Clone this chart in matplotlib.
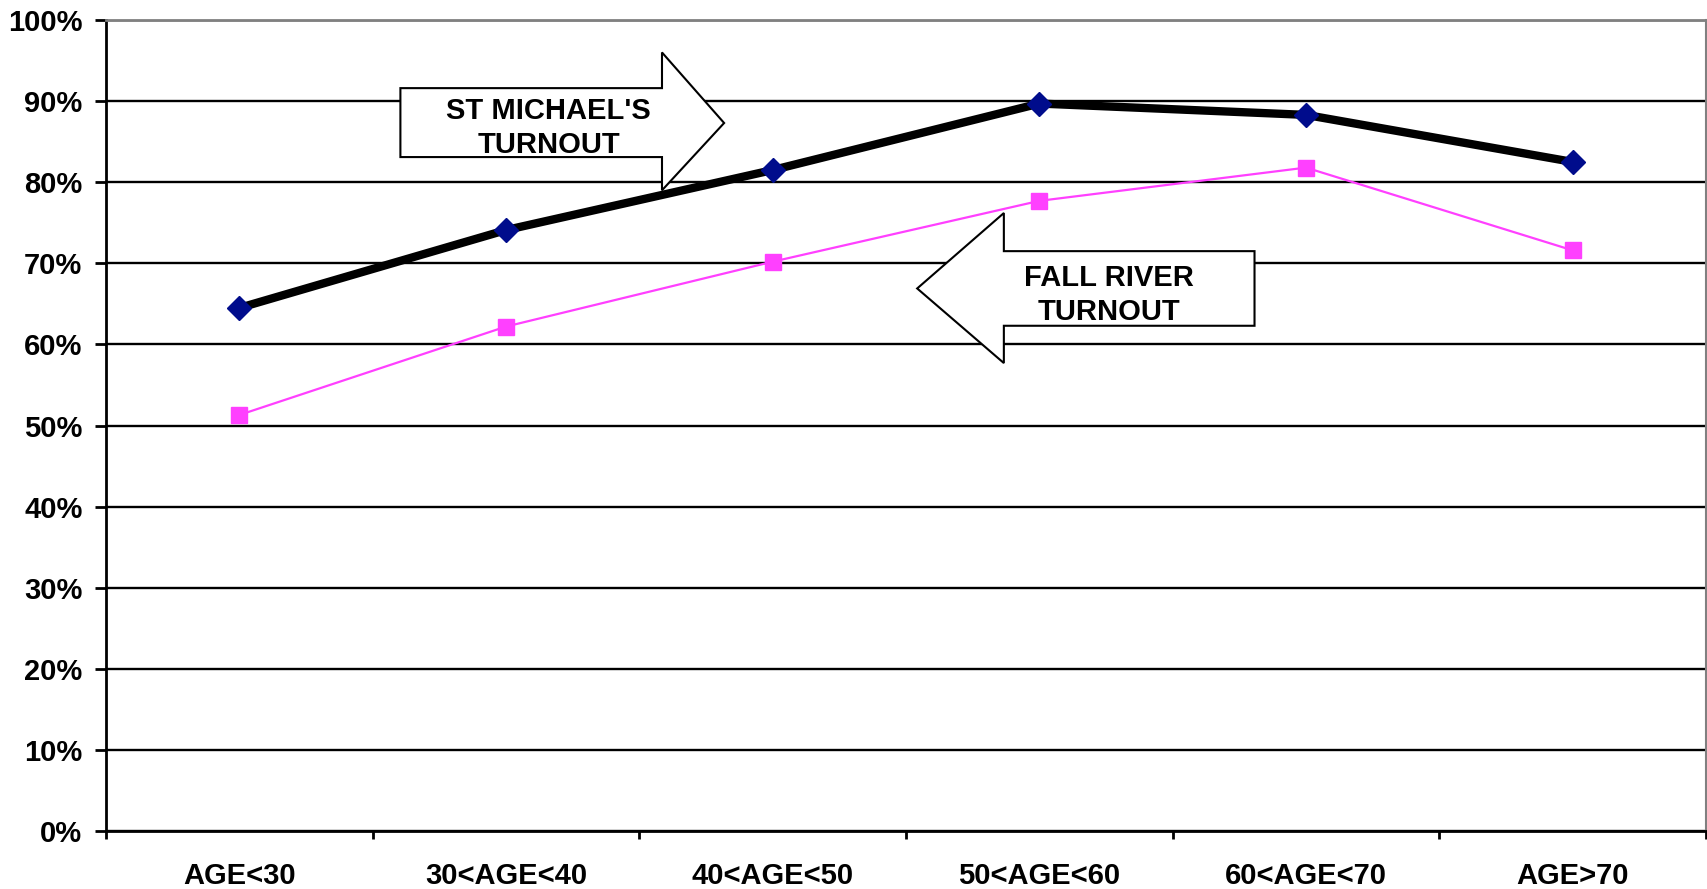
import matplotlib.pyplot as plt
from matplotlib.patches import Polygon
from matplotlib.ticker import FixedLocator, FuncFormatter

plt.rcParams['font.family'] = ['Liberation Sans', 'DejaVu Sans']
plt.rcParams['font.weight'] = 'bold'

# data (percent)
categories = ['AGE<30', '30<AGE<40', '40<AGE<50', '50<AGE<60', '60<AGE<70', 'AGE>70']
st_michaels = [64.5, 74.1, 81.5, 89.7, 88.3, 82.5]
fall_river = [51.3, 62.2, 70.2, 77.7, 81.8, 71.6]

# arrow call-outs (x in category units, y in percent)
right_arrow = [(0.604, 91.6), (1.585, 91.6), (1.585, 96.0), (1.818, 87.3),
               (1.585, 79.0), (1.585, 83.1), (0.604, 83.1)]
left_arrow = [(3.807, 71.5), (2.867, 71.5), (2.867, 76.2), (2.542, 66.9),
              (2.867, 57.7), (2.867, 62.3), (3.807, 62.3)]

fig = plt.figure(figsize=(17.07, 8.89), dpi=100)
ax = fig.add_axes([0.0621, 0.0652, 0.9373, 0.9123])

x = list(range(len(categories)))
ax.plot(x, st_michaels, color='black', linewidth=6, zorder=3,
        marker='D', markersize=12.5, markerfacecolor='#000c8c',
        markeredgecolor='#000c8c')
ax.plot(x, fall_river, color='#ff40ff', linewidth=1.6, zorder=3,
        marker='s', markersize=12, markerfacecolor='#ff40ff',
        markeredgecolor='#ff40ff')

# call-out arrows with labels
for pts in (right_arrow, left_arrow):
    ax.add_patch(Polygon(pts, closed=True, facecolor='white',
                         edgecolor='black', linewidth=1.5, zorder=5))
ax.text(1.16, 86.7, "ST MICHAEL'S\nTURNOUT", ha='center', va='center',
        fontsize=21, fontweight='bold', linespacing=1.3, zorder=6)
ax.text(3.26, 66.1, "FALL RIVER\nTURNOUT", ha='center', va='center',
        fontsize=21, fontweight='bold', linespacing=1.3, zorder=6)

# axes
ax.set_xlim(-0.5, len(categories) - 0.5)
ax.set_ylim(0, 100)
ax.xaxis.set_major_locator(FixedLocator([i - 0.5 for i in range(len(categories) + 1)]))
ax.xaxis.set_major_formatter(FuncFormatter(lambda v, p: ''))
ax.xaxis.set_minor_locator(FixedLocator(x))
ax.set_xticklabels(categories, minor=True)
ax.tick_params(axis='x', which='minor', length=0, pad=22, labelsize=21)
ax.tick_params(axis='x', which='major', length=6, width=2, direction='out')

ax.set_yticks(range(0, 101, 10))
ax.yaxis.set_major_formatter(FuncFormatter(lambda v, p: f'{int(v)}%'))
ax.tick_params(axis='y', length=8, width=2, pad=9, labelsize=21)

ax.grid(True, axis='y', color='black', linewidth=1.7)
ax.set_axisbelow(True)

ax.spines['left'].set_linewidth(2)
ax.spines['bottom'].set_linewidth(2)
ax.spines['top'].set_color('#808080')
ax.spines['top'].set_linewidth(2)
ax.spines['right'].set_color('#808080')
ax.spines['right'].set_linewidth(1.5)

fig.savefig('out.png', dpi=100)
